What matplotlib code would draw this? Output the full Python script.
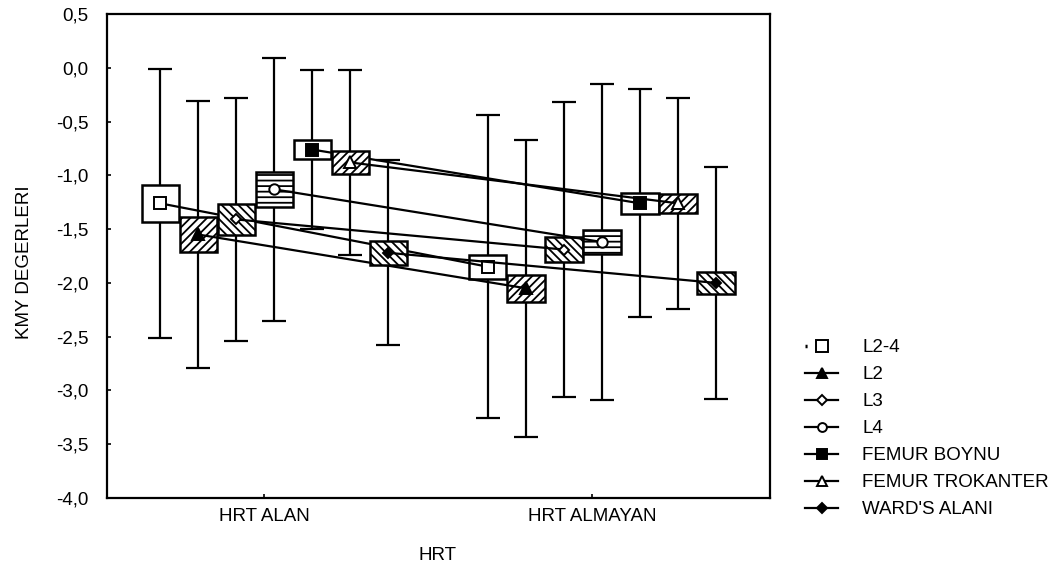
import numpy as np
import matplotlib
matplotlib.use("Agg")
import matplotlib.pyplot as plt
from matplotlib.patches import Rectangle
from matplotlib.lines import Line2D

plt.rcParams['font.family'] = ['Liberation Sans', 'DejaVu Sans']
plt.rcParams['hatch.linewidth'] = 1.3

# Groups on the x axis
groups = ['HRT ALAN', 'HRT ALMAYAN']

# Measurement sites (one box per site in each group)
series = ['L2-4', 'L2', 'L3', 'L4', 'FEMUR BOYNU', 'FEMUR TROKANTER', "WARD'S ALANI"]

# Mean KMY (T-score) per site: [HRT ALAN, HRT ALMAYAN]
means = {
    'L2-4':            [-1.26, -1.85],
    'L2':              [-1.55, -2.05],
    'L3':              [-1.41, -1.69],
    'L4':              [-1.13, -1.62],
    'FEMUR BOYNU':     [-0.76, -1.26],
    'FEMUR TROKANTER': [-0.88, -1.26],
    "WARD'S ALANI":    [-1.72, -2.00],
}
# Standard error (box half-height)
se = {
    'L2-4':            [0.17, 0.11],
    'L2':              [0.16, 0.125],
    'L3':              [0.145, 0.12],
    'L4':              [0.16, 0.11],
    'FEMUR BOYNU':     [0.09, 0.095],
    'FEMUR TROKANTER': [0.11, 0.09],
    "WARD'S ALANI":    [0.11, 0.10],
}
# Standard deviation (whiskers)
sd = {
    'L2-4':            [1.25, 1.41],
    'L2':              [1.24, 1.38],
    'L3':              [1.13, 1.37],
    'L4':              [1.22, 1.47],
    'FEMUR BOYNU':     [0.74, 1.06],
    'FEMUR TROKANTER': [0.86, 0.98],
    "WARD'S ALANI":    [0.86, 1.08],
}

y_ticks = np.arange(-4.0, 0.51, 0.5)

# marker, filled?, box hatch
styles = {
    'L2-4':            ('s', False, None),
    'L2':              ('^', True, '////'),
    'L3':              ('D', False, '\\\\\\\\'),
    'L4':              ('o', False, '---'),
    'FEMUR BOYNU':     ('s', True, None),
    'FEMUR TROKANTER': ('^', False, '////'),
    "WARD'S ALANI":    ('D', True, '\\\\\\\\'),
}
msize = {'s': 8, '^': 8.5, 'D': 5.5, 'o': 7.5}

fig = plt.figure(figsize=(10.61, 5.71), dpi=100)
ax = fig.add_axes([0.1008, 0.1278, 0.6249, 0.8477])

x = np.arange(len(groups))
step = 0.1159
start = -0.317
box_w = 0.113

for k, name in enumerate(series):
    xs = x + start + k * step
    m = np.array(means[name])
    s = np.array(se[name])
    d = np.array(sd[name])
    marker, filled, hatch = styles[name]

    ax.errorbar(xs, m, yerr=d, fmt='none', ecolor='black', elinewidth=1.6,
                capsize=8.3, capthick=1.6, zorder=1)
    for xi, mi, si in zip(xs, m, s):
        ax.add_patch(Rectangle((xi - box_w / 2, mi - si), box_w, 2 * si,
                               facecolor='white', edgecolor='black',
                               hatch=hatch, linewidth=1.8, zorder=2 + 2 * k))
    ax.plot(xs, m, color='black', linewidth=1.6, marker=marker,
            markersize=msize[marker], markeredgewidth=1.4,
            markerfacecolor='black' if filled else 'white',
            markeredgecolor='black', zorder=3 + 2 * k)

ax.set_xlim(-0.479, 1.543)
ax.set_ylim(-4.0, 0.5)
ax.set_xticks(x)
ax.set_xticklabels(groups)
ax.set_yticks(y_ticks)
ax.set_yticklabels([f"{v:.1f}".replace('.', ',') for v in y_ticks])
ax.tick_params(axis='both', direction='in', length=3, width=1.2,
               labelsize=13.5, colors='black')
ax.tick_params(axis='y', pad=13.5)
ax.tick_params(axis='x', pad=7)
for sp in ax.spines.values():
    sp.set_linewidth(1.6)

fig.text(25 / 1061, 1 - 262 / 571, 'KMY DEGERLERI', rotation=90,
         ha='center', va='center', fontsize=13.5)
fig.text(438 / 1061, 1 - 555 / 571, 'HRT', ha='center', va='center',
         fontsize=13.5)

# Legend
handles = []
for name in series:
    marker, filled, hatch = styles[name]
    if name == 'L2-4':
        h = Line2D([], [], color='black', linewidth=2.5, linestyle=(0, (0.6, 40)),
                   marker=marker, markersize=msize[marker], markeredgewidth=1.4,
                   markerfacecolor='white', markeredgecolor='black')
    else:
        h = Line2D([], [], color='black', linewidth=1.6, marker=marker,
                   markersize=msize[marker] * 0.85, markeredgewidth=1.4,
                   markerfacecolor='black' if filled else 'white',
                   markeredgecolor='black')
    handles.append(h)

fig.legend(handles, series, loc='upper left', bbox_to_anchor=(805 / 1061, 1 - 339 / 571),
           frameon=False, fontsize=13.5, borderpad=0, borderaxespad=0,
           handlelength=1.76, handletextpad=1.28, labelspacing=0.53)

fig.savefig('out.png', dpi=100)
